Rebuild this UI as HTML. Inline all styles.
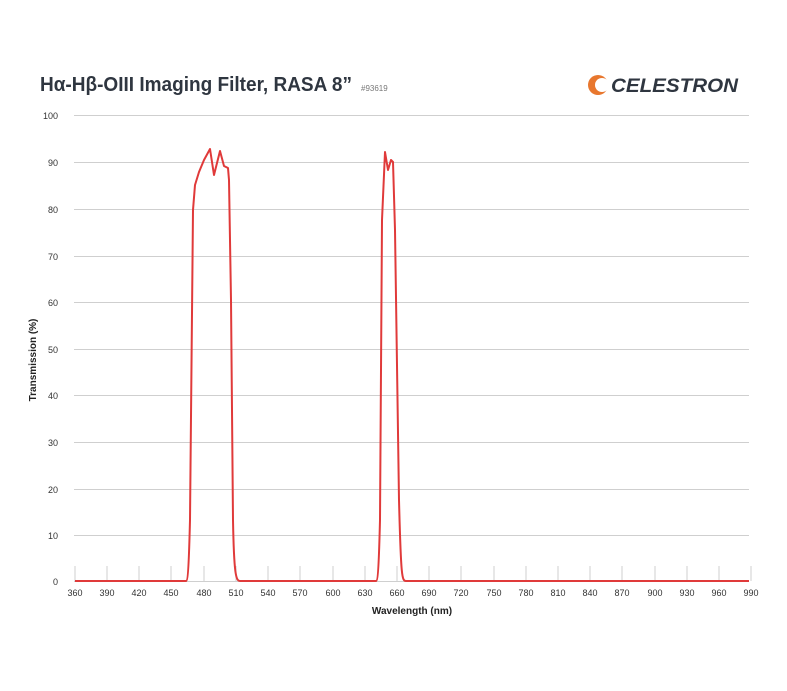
<!DOCTYPE html>
<html><head><meta charset="utf-8"><style>
html,body{margin:0;padding:0;background:#fff;}
svg{display:block;font-family:"Liberation Sans",sans-serif;}
</style></head><body>
<svg width="787" height="691" viewBox="0 0 787 691" xmlns="http://www.w3.org/2000/svg">
<rect width="787" height="691" fill="#fff"/>
<text x="40" y="91" font-size="20" font-weight="bold" fill="#2f3640" textLength="312" lengthAdjust="spacingAndGlyphs">Hα-Hβ-OIII Imaging Filter, RASA 8”</text>
<text x="361" y="91" font-size="8" fill="#777">#93619</text>
<g>
<circle cx="598" cy="85" r="10" fill="#e8772e"/>
<circle cx="602" cy="85" r="7" fill="#fff"/>
<text x="611" y="92" font-size="19" font-weight="bold" font-style="italic" fill="#2f3640" textLength="127" lengthAdjust="spacingAndGlyphs">CELESTRON</text>
</g>
<g stroke="#cfcfcf" stroke-width="1">
<line x1="74" y1="115.5" x2="749" y2="115.5"/>
<line x1="74" y1="162.5" x2="749" y2="162.5"/>
<line x1="74" y1="209.5" x2="749" y2="209.5"/>
<line x1="74" y1="256.5" x2="749" y2="256.5"/>
<line x1="74" y1="302.5" x2="749" y2="302.5"/>
<line x1="74" y1="349.5" x2="749" y2="349.5"/>
<line x1="74" y1="395.5" x2="749" y2="395.5"/>
<line x1="74" y1="442.5" x2="749" y2="442.5"/>
<line x1="74" y1="489.5" x2="749" y2="489.5"/>
<line x1="74" y1="535.5" x2="749" y2="535.5"/>
<line x1="74" y1="581.5" x2="749" y2="581.5"/>
</g>
<g stroke="#cfcfcf" stroke-width="1">
<line x1="75" y1="566" x2="75" y2="581"/><line x1="107" y1="566" x2="107" y2="581"/><line x1="139" y1="566" x2="139" y2="581"/><line x1="171" y1="566" x2="171" y2="581"/><line x1="204" y1="566" x2="204" y2="581"/><line x1="236" y1="566" x2="236" y2="581"/><line x1="268" y1="566" x2="268" y2="581"/><line x1="300" y1="566" x2="300" y2="581"/><line x1="333" y1="566" x2="333" y2="581"/><line x1="365" y1="566" x2="365" y2="581"/><line x1="397" y1="566" x2="397" y2="581"/><line x1="429" y1="566" x2="429" y2="581"/><line x1="461" y1="566" x2="461" y2="581"/><line x1="494" y1="566" x2="494" y2="581"/><line x1="526" y1="566" x2="526" y2="581"/><line x1="558" y1="566" x2="558" y2="581"/><line x1="590" y1="566" x2="590" y2="581"/><line x1="622" y1="566" x2="622" y2="581"/><line x1="655" y1="566" x2="655" y2="581"/><line x1="687" y1="566" x2="687" y2="581"/><line x1="719" y1="566" x2="719" y2="581"/><line x1="751" y1="566" x2="751" y2="581"/>
</g>
<g font-size="9" fill="#333" text-anchor="end">
<text x="58" y="119">100</text><text x="58" y="166">90</text><text x="58" y="213">80</text><text x="58" y="260">70</text><text x="58" y="306">60</text><text x="58" y="353">50</text><text x="58" y="399">40</text><text x="58" y="446">30</text><text x="58" y="493">20</text><text x="58" y="539">10</text><text x="58" y="585">0</text>
</g>
<g font-size="9" fill="#333" text-anchor="middle">
<text x="75" y="596">360</text><text x="107" y="596">390</text><text x="139" y="596">420</text><text x="171" y="596">450</text><text x="204" y="596">480</text><text x="236" y="596">510</text><text x="268" y="596">540</text><text x="300" y="596">570</text><text x="333" y="596">600</text><text x="365" y="596">630</text><text x="397" y="596">660</text><text x="429" y="596">690</text><text x="461" y="596">720</text><text x="494" y="596">750</text><text x="526" y="596">780</text><text x="558" y="596">810</text><text x="590" y="596">840</text><text x="622" y="596">870</text><text x="655" y="596">900</text><text x="687" y="596">930</text><text x="719" y="596">960</text><text x="751" y="596">990</text>
</g>
<text x="412" y="614" font-size="10" font-weight="bold" fill="#222" text-anchor="middle">Wavelength (nm)</text>
<text transform="translate(36,360) rotate(-90)" font-size="10" font-weight="bold" fill="#222" text-anchor="middle">Transmission (%)</text>
<path d="M75,581 L186,581 C188,581 189,560 190,520 L193,210 L195,185 L199,172 L204,160 L210,149 L214,175 L220,151 L224,166 L228,168 L229,180 L231,300 L233,520 C234,575 236,581 240,581 L376,581 C378,581 379,560 380,520 L382,220 L385,152 L388,170 L391,160 L393,162 L395,230 L399,500 C401,578 402,581 406,581 L749,581" fill="none" stroke="#e03a3a" stroke-width="2" stroke-linejoin="round"/>
</svg>
</body></html>
